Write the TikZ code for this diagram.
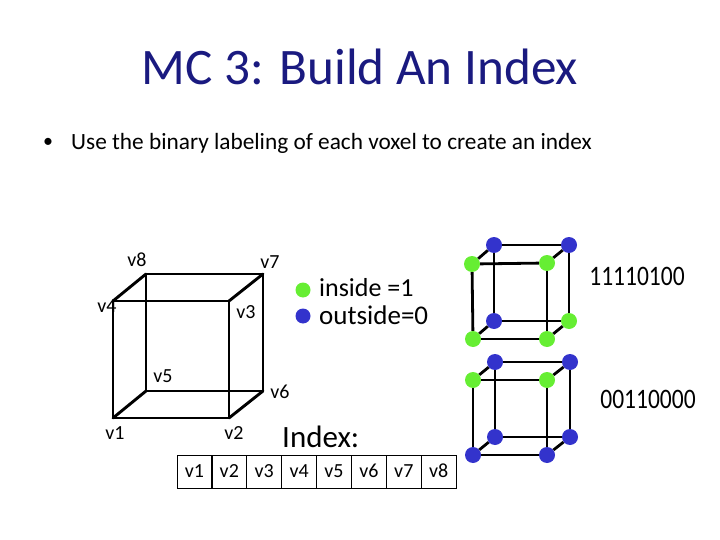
\documentclass[tikz,border=0pt]{standalone}
\usepackage{fontspec}
\setmainfont[Numbers=Lining]{Carlito}
\definecolor{gn}{HTML}{66EE33}
\definecolor{bl}{HTML}{3333CC}
\definecolor{ttl}{HTML}{1A1A80}
\tikzset{
  edge/.style={line width=2.9pt,line cap=round},
  sedge/.style={line width=2.8pt},
  lab/.style={inner sep=0pt,font=\fontsize{20}{22}\selectfont},
  big/.style={inner sep=0pt,font=\fontsize{26}{28}\selectfont},
  code/.style={inner sep=0pt,yscale=1.2,font=\fontsize{23.5}{28}\selectfont},
  dotg/.style={circle,fill=gn,inner sep=0pt,minimum size=16pt},
  dotb/.style={circle,fill=bl,inner sep=0pt,minimum size=16pt},
  cell/.style={draw,line width=0.7pt,minimum width=35pt,minimum height=33pt,inner sep=0pt,text height=11pt,text depth=0pt,font=\fontsize{20}{22}\selectfont}
}
\begin{document}
\begin{tikzpicture}[x=1pt,y=-1pt]
\useasboundingbox (0,0) rectangle (720,540);
\node[inner sep=0pt,text=ttl,font=\fontsize{51.2}{56}\selectfont] (title) at (360,67) {MC 3: Build An Index};
\node[inner sep=0pt,font=\fontsize{20}{24}\selectfont] (bullet) at (48,143) {•};
\node[inner sep=0pt,anchor=west,font=\fontsize{23.3}{26}\selectfont] (sub) at (71,143) {Use the binary labeling of each voxel to create an index};
% big cube
\foreach \n/\x/\y in {a1/113/418,a2/229/418,a3/229/301,a4/113/301,a5/146/391,a6/263/391,a7/263/274,a8/146/274}
  \coordinate (\n) at (\x,\y);
\draw[edge] (a5)--(a6)--(a7)--(a8)--cycle;
\draw[edge] (a1)--(a2)--(a3)--(a4)--cycle;
\draw[edge] (a1)--(a5) (a2)--(a6) (a3)--(a7) (a4)--(a8);
\foreach \n/\x/\y/\t in {l8/137/260/v8,l7/270/262/v7,l4/107/306/v4,l3/246/312/v3,l5/163/376/v5,l6/280/392/v6,l1/115/433/v1,l2/234/433/v2}
  \node[lab] (\n) at (\x,\y) {\t};
% legend
\node[dotg,minimum size=15pt] (lg) at (303,290) {};
\node[dotb,minimum size=15pt] (lb) at (303,316) {};
\node[big,anchor=west] (tin) at (319,288) {inside =1};
\node[big,anchor=west,font=\fontsize{27}{28}\selectfont] (tout) at (319,315) {outside=0};
\node[code] (codea) at (637,276) {11110100};
\node[code] (codeb) at (648,399) {00110000};
\node[inner sep=0pt,anchor=west,font=\fontsize{31}{34}\selectfont] (idx) at (282,437) {Index:};
% cube 1
\foreach \n/\x/\y/\s in {p1/473/339/dotg,p2/547/339/dotg,p3/547/263/dotg,p4/472/264/dotg,p5/494/321/dotb,p6/569/321/dotg,p7/569/245/dotb,p8/494/245/dotb}
  \node[\s] (\n) at (\x,\y) {};
\foreach \a/\b in {p1/p2,p2/p3,p3/p4,p4/p1,p5/p6,p6/p7,p7/p8,p8/p5,p1/p5,p2/p6,p3/p7,p4/p8}
  \draw[sedge] (\a)--(\b);
% cube 2
\foreach \n/\x/\y/\s in {q1/473/455/dotb,q2/547/455/dotb,q3/547/380/dotg,q4/473/380/dotg,q5/495/437/dotb,q6/570/437/dotb,q7/570/362/dotb,q8/495/362/dotb}
  \node[\s] (\n) at (\x,\y) {};
\foreach \a/\b in {q1/q2,q2/q3,q3/q4,q4/q1,q5/q6,q6/q7,q7/q8,q8/q5,q1/q5,q2/q6,q3/q7,q4/q8}
  \draw[sedge] (\a)--(\b);
% table
\foreach \i in {1,...,8}
  \node[cell] (cell\i) at ({177+17.4+(\i-1)*34.9},471.5) {v\i};
\end{tikzpicture}
\end{document}
